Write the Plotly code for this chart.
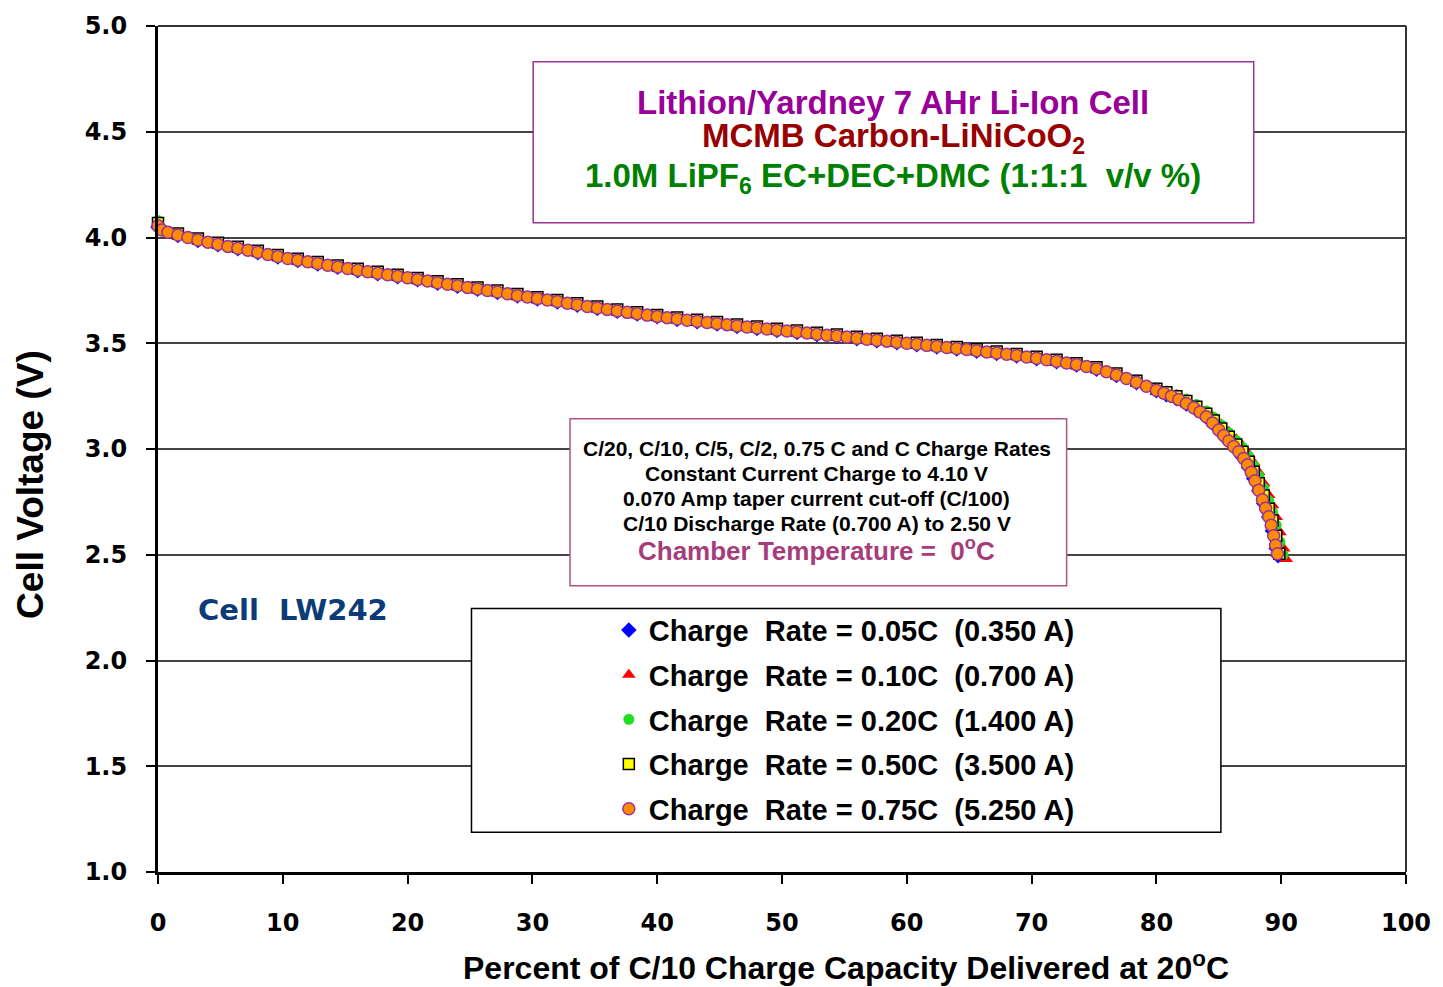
import plotly.graph_objects as go

# ---- discharge data: percent of C/10 charge capacity vs cell voltage ----
capacity_coarse = [0, 1.6, 3.2, 4.8, 6.4, 8.0, 9.6, 11.2, 12.8, 14.4, 16.0, 17.6, 19.2, 20.8,
                   22.4, 24.0, 25.6, 27.2, 28.8, 30.4, 32.0, 33.6, 35.2, 36.8, 38.4, 40.0, 41.6,
                   43.2, 44.8, 46.4, 48.0, 49.6, 51.2, 52.8, 54.4, 56.0, 57.6, 59.2, 60.8, 62.4,
                   64.0, 65.6, 67.2, 68.8, 70.4, 72.0, 73.6, 75.2, 76.8, 78.4, 80.0]
capacity_knee = [80.8, 81.6, 82.4, 83.2, 84.0, 84.6, 85.2, 85.8, 86.4, 86.9, 87.4, 87.8,
                 88.2, 88.6, 89.0, 89.3, 89.6]

cap_005c = capacity_coarse + capacity_knee + [89.75]
volt_005c = [4.050, 4.010, 3.986, 3.966, 3.947, 3.928, 3.908, 3.891, 3.875, 3.859, 3.843,
             3.829, 3.815, 3.800, 3.784, 3.770, 3.755, 3.740, 3.724, 3.709, 3.695, 3.680,
             3.665, 3.651, 3.638, 3.625, 3.613, 3.602, 3.591, 3.580, 3.570, 3.560, 3.551,
             3.541, 3.532, 3.522, 3.512, 3.503, 3.493, 3.483, 3.473, 3.463, 3.452, 3.440,
             3.427, 3.413, 3.397, 3.377, 3.348, 3.314, 3.276,
             3.257, 3.238, 3.213, 3.185, 3.150, 3.115, 3.075, 3.036, 2.998, 2.961, 2.911,
             2.861, 2.803, 2.742, 2.678, 2.613, 2.530, 2.495]

cap_010c = capacity_coarse + capacity_knee + [89.9, 90.2, 90.4]
volt_010c = [4.062, 4.016, 3.992, 3.972, 3.953, 3.934, 3.914, 3.897, 3.881, 3.865, 3.849,
             3.835, 3.821, 3.806, 3.790, 3.776, 3.761, 3.746, 3.730, 3.715, 3.701, 3.686,
             3.671, 3.657, 3.644, 3.631, 3.619, 3.608, 3.597, 3.586, 3.576, 3.566, 3.557,
             3.547, 3.538, 3.528, 3.518, 3.509, 3.499, 3.489, 3.479, 3.469, 3.458, 3.446,
             3.433, 3.419, 3.403, 3.384, 3.356, 3.322, 3.285,
             3.270, 3.254, 3.233, 3.208, 3.178, 3.150, 3.116, 3.081, 3.046, 3.015, 2.975,
             2.936, 2.890, 2.838, 2.782, 2.734, 2.678, 2.606, 2.530, 2.480]

cap_020c = capacity_coarse + capacity_knee + [89.9, 90.15]
volt_020c = [4.080, 4.021, 3.997, 3.977, 3.958, 3.939, 3.919, 3.902, 3.886, 3.870, 3.854,
             3.840, 3.826, 3.811, 3.795, 3.781, 3.766, 3.751, 3.735, 3.720, 3.706, 3.691,
             3.676, 3.662, 3.649, 3.636, 3.624, 3.613, 3.602, 3.591, 3.581, 3.571, 3.562,
             3.552, 3.543, 3.533, 3.523, 3.514, 3.504, 3.494, 3.484, 3.474, 3.463, 3.451,
             3.438, 3.424, 3.408, 3.389, 3.361, 3.327, 3.290,
             3.274, 3.257, 3.236, 3.210, 3.180, 3.150, 3.114, 3.077, 3.040, 3.008, 2.965,
             2.922, 2.872, 2.815, 2.755, 2.703, 2.640, 2.560, 2.500]

cap_050c = capacity_coarse + capacity_knee + [89.85]
volt_050c = [4.068, 4.019, 3.995, 3.975, 3.956, 3.937, 3.917, 3.900, 3.884, 3.868, 3.852,
             3.838, 3.824, 3.809, 3.793, 3.779, 3.764, 3.749, 3.733, 3.718, 3.704, 3.689,
             3.674, 3.660, 3.647, 3.634, 3.622, 3.611, 3.600, 3.589, 3.579, 3.569, 3.560,
             3.550, 3.541, 3.531, 3.521, 3.512, 3.502, 3.492, 3.482, 3.472, 3.461, 3.449,
             3.436, 3.422, 3.406, 3.386, 3.357, 3.323, 3.285,
             3.268, 3.250, 3.227, 3.200, 3.167, 3.135, 3.097, 3.058, 3.021, 2.987, 2.940,
             2.893, 2.838, 2.780, 2.718, 2.662, 2.590, 2.505]

cap_075c = [0, 0.3,
            0.8, 1.6, 2.4, 3.2, 4.0, 4.8, 5.6, 6.4, 7.2, 8.0,
            8.8, 9.6, 10.4, 11.2, 12.0, 12.8, 13.6, 14.4, 15.2, 16.0,
            16.8, 17.6, 18.4, 19.2, 20.0, 20.8, 21.6, 22.4, 23.2, 24.0,
            24.8, 25.6, 26.4, 27.2, 28.0, 28.8, 29.6, 30.4, 31.2, 32.0,
            32.8, 33.6, 34.4, 35.2, 36.0, 36.8, 37.6, 38.4, 39.2, 40.0,
            40.8, 41.6, 42.4, 43.2, 44.0, 44.8, 45.6, 46.4, 47.2, 48.0,
            48.8, 49.6, 50.4, 51.2, 52.0, 52.8, 53.6, 54.4, 55.2, 56.0,
            56.8, 57.6, 58.4, 59.2, 60.0, 60.8, 61.6, 62.4, 63.2, 64.0,
            64.8, 65.6, 66.4, 67.2, 68.0, 68.8, 69.6, 70.4, 71.2, 72.0,
            72.8, 73.6, 74.4, 75.2, 76.0, 76.8, 77.6, 78.4, 79.2, 80.0,
            80.6, 81.2, 81.8, 82.4, 83.0, 83.5, 84.0, 84.5, 85.0, 85.4, 85.8, 86.2,
            86.6, 87.0, 87.3, 87.6, 87.9, 88.2, 88.5, 88.75, 89.0, 89.2, 89.4, 89.55, 89.7]
volt_075c = [4.055, 4.035,
             4.025, 4.012, 4.000, 3.988, 3.978, 3.968, 3.958, 3.949, 3.940, 3.930,
             3.920, 3.910, 3.901, 3.893, 3.885, 3.877, 3.869, 3.861, 3.853, 3.845,
             3.838, 3.831, 3.824, 3.817, 3.810, 3.802, 3.794, 3.786, 3.779, 3.772,
             3.764, 3.757, 3.749, 3.742, 3.734, 3.726, 3.719, 3.711, 3.704, 3.697,
             3.689, 3.682, 3.674, 3.667, 3.660, 3.653, 3.646, 3.640, 3.633, 3.627,
             3.621, 3.615, 3.609, 3.604, 3.598, 3.593, 3.588, 3.582, 3.577, 3.572,
             3.567, 3.562, 3.558, 3.553, 3.548, 3.543, 3.538, 3.534, 3.529, 3.524,
             3.519, 3.514, 3.510, 3.505, 3.500, 3.495, 3.490, 3.485, 3.480, 3.475,
             3.470, 3.465, 3.459, 3.454, 3.448, 3.442, 3.435, 3.429, 3.422, 3.415,
             3.407, 3.399, 3.390, 3.379, 3.365, 3.350, 3.333, 3.316, 3.297, 3.278,
             3.264, 3.250, 3.234, 3.215, 3.195, 3.175, 3.152, 3.123, 3.090, 3.064, 3.038, 3.012,
             2.987, 2.955, 2.925, 2.890, 2.850, 2.805, 2.760, 2.720, 2.680, 2.640, 2.590, 2.545, 2.505]

series_names = ["Charge\u00a0 Rate = 0.05C\u00a0 (0.350 A)",
                "Charge\u00a0 Rate = 0.10C\u00a0 (0.700 A)",
                "Charge\u00a0 Rate = 0.20C\u00a0 (1.400 A)",
                "Charge\u00a0 Rate = 0.50C\u00a0 (3.500 A)",
                "Charge\u00a0 Rate = 0.75C\u00a0 (5.250 A)"]
x_ticks = [0, 10, 20, 30, 40, 50, 60, 70, 80, 90, 100]
y_ticks = [1.0, 1.5, 2.0, 2.5, 3.0, 3.5, 4.0, 4.5, 5.0]

# ---- page geometry (pixels) ----
W, H = 1443, 987
PL, PR, PT, PB = 158, 1412, 21, 872


def fx(px):
    return (px - PL) / (PR - PL)


def fy(py):
    return (PB - py) / (PB - PT)


series = [
    (cap_005c, volt_005c, dict(symbol="diamond", size=12, color="#0000FF",
                               line=dict(width=0))),
    (cap_010c, volt_010c, dict(symbol="triangle-up", size=12, color="#FF0000",
                               line=dict(width=0))),
    (cap_020c, volt_020c, dict(symbol="circle", size=11, color="#22DD22",
                               line=dict(width=0))),
    (cap_050c, volt_050c, dict(symbol="square", size=11, color="#FFFF00",
                               line=dict(width=1.5, color="#000000"))),
    (cap_075c, volt_075c, dict(symbol="circle", size=12, color="#FF8C00",
                               line=dict(width=1.5, color="#993399"))),
]

fig = go.Figure()
for i, ((xs, ys, mk), name) in enumerate(zip(series, series_names)):
    fig.add_trace(go.Scatter(x=xs, y=ys, mode="markers", name=name, marker=mk,
                             legendgroup=f"g{i}", cliponaxis=False))

bold_tick = dict(family="DejaVu Sans", size=24, color="black", weight="bold")

fig.update_layout(
    width=W, height=H,
    margin=dict(l=PL, r=W - PR, t=PT, b=H - PB),
    paper_bgcolor="white", plot_bgcolor="white",
    showlegend=True,
    legend=dict(x=fx(611), y=fy(603), xanchor="left", yanchor="top",
                bgcolor="rgba(0,0,0,0)", borderwidth=0, tracegroupgap=4,
                itemwidth=30,
                font=dict(family="Liberation Sans", size=29, color="black", weight="bold")),
    xaxis=dict(range=[0, 100], tickvals=x_ticks, ticktext=[str(v) for v in x_ticks],
               showgrid=False, zeroline=False, showline=True, linecolor="black",
               linewidth=2.5, ticks="outside", ticklen=9, tickwidth=1.5,
               tickcolor="black", tickfont=bold_tick, ticklabelstandoff=18,
               ticklabeloverflow="allow"),
    yaxis=dict(range=[1, 5], tickvals=y_ticks, ticktext=[f"{v:.1f}" for v in y_ticks],
               showgrid=True, gridcolor="#444444", gridwidth=2, zeroline=False,
               showline=True, linecolor="black", linewidth=3, ticks="outside",
               ticklen=9, tickwidth=1.5, tickcolor="black", tickfont=bold_tick,
               ticklabelstandoff=14, ticklabeloverflow="allow"),
)

shapes = [
    # top and right frame lines of the plot area
    dict(type="line", xref="paper", yref="paper", x0=0, x1=1, y0=1, y1=1,
         line=dict(color="#333333", width=2), layer="above"),
    dict(type="line", xref="paper", yref="paper", x0=1, x1=1, y0=0, y1=1,
         line=dict(color="#333333", width=2), layer="above"),
    # cell description box
    dict(type="rect", xref="paper", yref="paper", x0=fx(535), x1=fx(1259),
         y0=fy(219), y1=fy(57), fillcolor="white",
         line=dict(color="#993399", width=1.5), layer="above"),
    # test conditions box
    dict(type="rect", xref="paper", yref="paper", x0=fx(572), x1=fx(1071),
         y0=fy(584), y1=fy(416), fillcolor="white",
         line=dict(color="#B05585", width=1.5), layer="above"),
    # legend frame
    dict(type="rect", xref="paper", yref="paper", x0=fx(473), x1=fx(1226),
         y0=fy(832), y1=fy(607), fillcolor="white",
         line=dict(color="black", width=1.5), layer="above"),
]
fig.update_layout(shapes=shapes)


def note(text, px, py, size, color, family="Liberation Sans", xanchor="center", angle=0):
    fig.add_annotation(text=text, xref="paper", yref="paper", x=fx(px), y=fy(py),
                       xanchor=xanchor, yanchor="middle", showarrow=False, textangle=angle,
                       font=dict(family=family, size=size, color=color, weight="bold"))


# cell description
note("Lithion/Yardney 7 AHr Li-Ion Cell", 897, 98, 33, "#990099")
note("MCMB Carbon-LiNiCoO<sub>2</sub>", 897, 134, 33, "#990000")
note("1.0M LiPF<sub>6</sub> EC+DEC+DMC (1:1:1\u00a0 v/v %)", 897, 174, 33, "#008000")

# test conditions
note("C/20, C/10, C/5, C/2, 0.75 C and C Charge Rates", 820, 446, 21, "black")
note("Constant Current Charge to 4.10 V", 820, 471, 21, "black")
note("0.070 Amp taper current cut-off (C/100)", 820, 496, 21, "black")
note("C/10 Discharge Rate (0.700 A) to 2.50 V", 820, 521, 21, "black")
note("Chamber Temperature =\u00a0 0<sup>o</sup>C", 820, 548, 26, "#A63D7A")

# cell identifier
note("Cell\u00a0 LW242", 196, 608, 29, "#0B3C78", family="DejaVu Sans", xanchor="left")

# axis titles
note("Percent of C/10 Charge Capacity Delivered at 20<sup>o</sup>C", 849, 967, 32, "black")
note("Cell Voltage (V)", 30, 482, 37, "black", angle=-90)

fig.write_html("out.html")
